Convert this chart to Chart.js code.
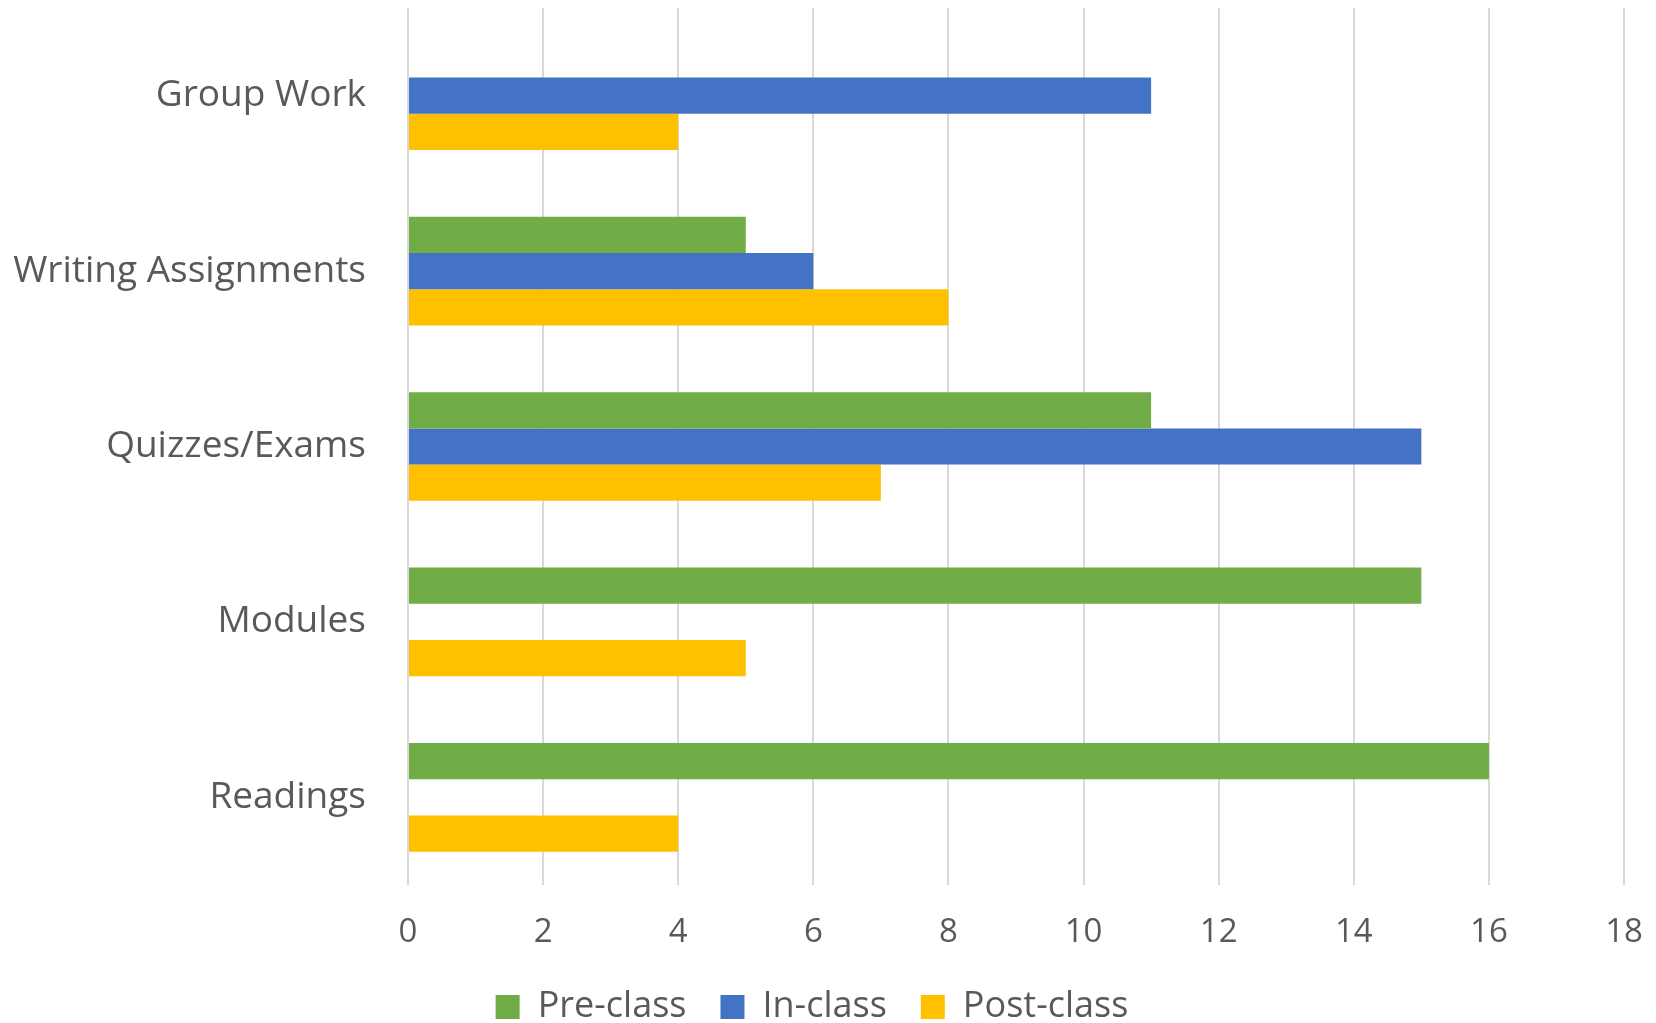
<!DOCTYPE html>
<html lang="en">
<head>
    <meta charset="UTF-8">
    <title>Activities by Class Phase</title>
    <script src="https://cdn.jsdelivr.net/npm/chart.js"></script>
    <style>
        html, body {
            margin: 0;
            padding: 0;
            background: #ffffff;
        }
        #wrap {
            width: 1656px;
            height: 1023px;
        }
    </style>
</head>
<body>
    <div id="wrap">
        <canvas id="activityChart"></canvas>
    </div>

    <script>
        // Chart data
        const categories = ['Group Work', 'Writing Assignments', 'Quizzes/Exams', 'Modules', 'Readings'];
        const preClass = [0, 5, 11, 15, 16];
        const inClass = [11, 6, 15, 0, 0];
        const postClass = [4, 8, 7, 5, 4];
        const xTicks = [0, 2, 4, 6, 8, 10, 12, 14, 16, 18];

        const textColor = '#595959';
        const fontFamily = '"Open Sans", Lato, sans-serif';

        const ctx = document.getElementById('activityChart').getContext('2d');

        new Chart(ctx, {
            type: 'bar',
            data: {
                labels: categories,
                datasets: [
                    { label: 'Pre-class', data: preClass, backgroundColor: '#70AD47' },
                    { label: 'In-class', data: inClass, backgroundColor: '#4472C4' },
                    { label: 'Post-class', data: postClass, backgroundColor: '#FFC000' }
                ]
            },
            options: {
                indexAxis: 'y',
                responsive: true,
                maintainAspectRatio: false,
                animation: false,
                datasets: {
                    bar: {
                        categoryPercentage: 0.62,
                        barPercentage: 1.0,
                        borderWidth: 0
                    }
                },
                // small negative bottom so the legend row sits near the bottom edge
                layout: {
                    padding: { top: 8, right: 32, left: 0, bottom: -12 }
                },
                plugins: {
                    legend: {
                        position: 'bottom',
                        labels: {
                            color: textColor,
                            font: { family: fontFamily, size: 36 },
                            boxWidth: 24,
                            boxHeight: 24,
                            padding: 34
                        }
                    },
                    tooltip: { enabled: false }
                },
                scales: {
                    x: {
                        min: 0,
                        max: 18,
                        afterBuildTicks: (scale) => {
                            scale.ticks = xTicks.map(v => ({ value: v }));
                        },
                        afterFit: (scale) => {
                            scale.height = 70;
                            scale.paddingLeft = 0;
                            scale.paddingRight = 0;
                        },
                        border: { display: false },
                        grid: {
                            color: '#D9D9D9',
                            lineWidth: 2,
                            drawTicks: false
                        },
                        ticks: {
                            color: textColor,
                            font: { family: fontFamily, size: 33 },
                            padding: 28,
                            maxRotation: 0
                        }
                    },
                    y: {
                        afterFit: (scale) => {
                            scale.width = 408;
                            scale.paddingTop = 0;
                            scale.paddingBottom = 0;
                        },
                        border: { display: false },
                        grid: { display: false, drawTicks: false },
                        ticks: {
                            color: textColor,
                            font: { family: fontFamily, size: 37 },
                            padding: 42
                        }
                    }
                }
            }
        });
    </script>
</body>
</html>
